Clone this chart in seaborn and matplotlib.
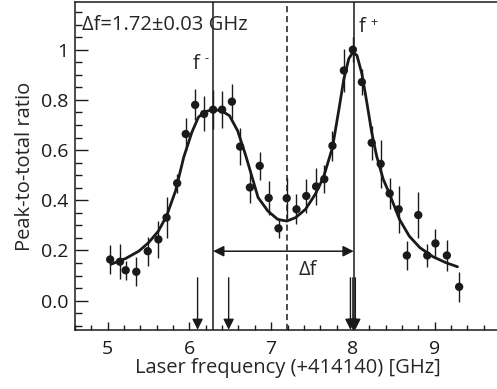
import numpy as np
import pandas as pd
import matplotlib
matplotlib.use("Agg")
import matplotlib.pyplot as plt
import seaborn as sns

# measured peak-to-total ratio
freq = [5.03, 5.15, 5.22, 5.35, 5.49, 5.62, 5.72, 5.85, 5.955, 6.07, 6.18, 6.29, 6.40,
        6.52, 6.62, 6.74, 6.86, 6.97, 7.09, 7.19, 7.31, 7.43, 7.55, 7.65, 7.75, 7.89,
        8.00, 8.11, 8.23, 8.34, 8.45, 8.56, 8.66, 8.80, 8.91, 9.01, 9.15, 9.30]
ratio = [0.164, 0.155, 0.121, 0.115, 0.197, 0.244, 0.331, 0.468, 0.664, 0.780, 0.744,
         0.761, 0.761, 0.793, 0.614, 0.451, 0.537, 0.409, 0.288, 0.408, 0.364, 0.417,
         0.455, 0.484, 0.617, 0.917, 1.000, 0.871, 0.629, 0.545, 0.427, 0.364, 0.180,
         0.341, 0.180, 0.228, 0.180, 0.055]
ratio_err = [0.057, 0.069, 0.037, 0.058, 0.057, 0.075, 0.080, 0.038, 0.065, 0.062, 0.070,
             0.077, 0.075, 0.070, 0.073, 0.060, 0.057, 0.067, 0.037, 0.080, 0.060, 0.067,
             0.073, 0.057, 0.060, 0.087, 0.050, 0.053, 0.067, 0.097, 0.061, 0.093, 0.057,
             0.091, 0.047, 0.058, 0.060, 0.060]

# fitted curve
fit_x = [5.04, 5.22, 5.38, 5.50, 5.62, 5.72, 5.83, 5.93, 6.03, 6.11, 6.19, 6.29, 6.39,
         6.49, 6.59, 6.69, 6.84, 6.96, 7.08, 7.19, 7.30, 7.42, 7.54, 7.64, 7.75, 7.83,
         7.89, 7.95, 8.00, 8.05, 8.11, 8.17, 8.23, 8.29, 8.37, 8.45, 8.57, 8.69, 8.82,
         8.98, 9.14, 9.28]
fit_y = [0.145, 0.168, 0.197, 0.231, 0.277, 0.337, 0.437, 0.571, 0.671, 0.731, 0.753,
         0.761, 0.757, 0.737, 0.677, 0.577, 0.411, 0.357, 0.324, 0.317, 0.331, 0.364,
         0.424, 0.491, 0.610, 0.764, 0.884, 0.964, 0.990, 0.977, 0.904, 0.791, 0.671,
         0.577, 0.485, 0.424, 0.324, 0.257, 0.211, 0.175, 0.151, 0.135]

f_minus = 6.29
f_plus = 8.01
f_center = 7.19
arrow_x = [6.10, 6.48, 7.97, 8.00, 8.03]

sns.set_style("ticks")
plt.rcParams["font.family"] = ["Open Sans", "DejaVu Sans"]
plt.rcParams["font.size"] = 14.5

fig = plt.figure(figsize=(4.97, 3.89), dpi=100)
ax = fig.add_axes([75 / 497, 59 / 389, 425 / 497, 328 / 389])

data = pd.DataFrame({"freq": freq, "ratio": ratio, "err": ratio_err})
fit = pd.DataFrame({"x": fit_x, "y": fit_y})

ax.errorbar(data["freq"], data["ratio"], yerr=data["err"], fmt="none",
            ecolor="#1a1a1a", elinewidth=1.0, capsize=0, zorder=2)
sns.scatterplot(data=data, x="freq", y="ratio", ax=ax, color="#1a1a1a", s=36,
                edgecolor="none", zorder=3)
sns.lineplot(data=fit, x="x", y="y", ax=ax, color="#1a1a1a", lw=2.0, zorder=4)

ax.axvline(f_minus, color="#1a1a1a", lw=1.1, zorder=1)
ax.axvline(f_plus, color="#1a1a1a", lw=1.1, zorder=1)
ax.axvline(f_center, color="#1a1a1a", lw=1.1, ls=(0, (4, 2.5)), zorder=1)

ax.annotate("", xy=(f_minus, 0.197), xytext=(f_plus, 0.197),
            arrowprops=dict(arrowstyle="<|-|>", color="#1a1a1a", lw=1.1,
                            mutation_scale=16, shrinkA=0, shrinkB=0))
ax.text(7.45, 0.124, "Δf", ha="center", va="center")

for xa in arrow_x:
    ax.annotate("", xy=(xa, -0.116), xytext=(xa, 0.091),
                arrowprops=dict(arrowstyle="-|>", color="#1a1a1a", lw=1.0,
                                mutation_scale=16, shrinkA=0, shrinkB=0))

ax.text(4.68, 1.10, "Δf=1.72±0.03 GHz", ha="left", va="center")
ax.text(6.04, 0.944, "f", ha="left", va="center")
ax.text(6.18, 0.965, "-", ha="left", va="center", fontsize=9)
ax.text(8.07, 1.09, "f", ha="left", va="center")
ax.text(8.21, 1.11, "+", ha="left", va="center", fontsize=9)

ax.set_xlim(4.6, 9.75)
ax.set_ylim(-0.117, 1.19)
ax.set_xticks([5, 6, 7, 8, 9])
ax.set_xticks(np.arange(4.6, 9.8, 0.2), minor=True)
ax.set_yticks([0.0, 0.2, 0.4, 0.6, 0.8, 1.0])
ax.set_yticklabels(["0.0", "0.2", "0.4", "0.6", "0.8", "1"])
ax.set_yticks(np.arange(-0.1, 1.2, 0.05), minor=True)
ax.tick_params(axis="both", which="both", direction="in", width=1.0, colors="#1a1a1a",
               labelsize=14)
ax.tick_params(axis="y", which="major", length=9, pad=5)
ax.tick_params(axis="y", which="minor", length=5)
ax.tick_params(axis="x", which="major", length=6, pad=7)
ax.tick_params(axis="x", which="minor", length=3.5)

ax.set_xlabel("Laser frequency (+414140) [GHz]", fontsize=14.5, labelpad=0)
ax.set_ylabel("Peak-to-total ratio", fontsize=14.5, labelpad=4)

for side in ["left", "bottom", "top"]:
    ax.spines[side].set_linewidth(1.1)
    ax.spines[side].set_color("#1a1a1a")
ax.spines["right"].set_visible(False)

fig.savefig("out.png", dpi=100)
